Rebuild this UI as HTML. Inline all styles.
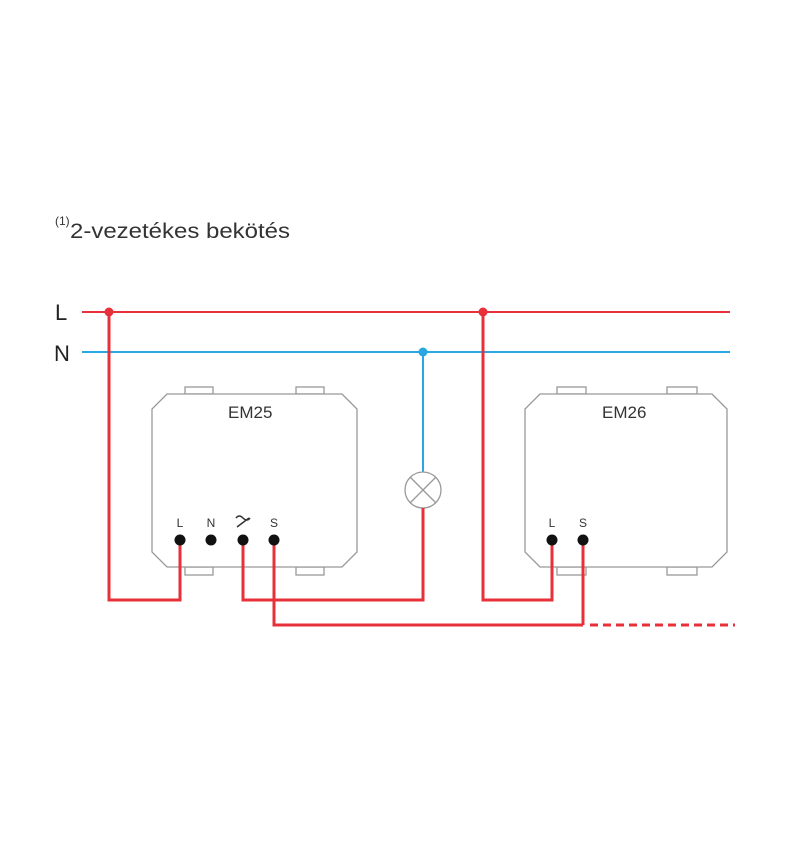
<!DOCTYPE html>
<html><head><meta charset="utf-8"><style>
html,body{margin:0;padding:0;background:#fff;}
svg{display:block;}
text{font-family:"Liberation Sans",sans-serif;}
</style></head><body>
<svg width="800" height="850" viewBox="0 0 800 850" xmlns="http://www.w3.org/2000/svg">
<text x="55" y="225" font-size="12" fill="#333">(1)</text>
<text x="70" y="238" font-size="21" fill="#333" textLength="220" lengthAdjust="spacingAndGlyphs">2-vezetékes bekötés</text>
<text x="55" y="320" font-size="22" fill="#222">L</text>
<text x="54" y="361" font-size="22" fill="#222">N</text>
<line x1="82" y1="312" x2="730" y2="312" stroke="#e8303a" stroke-width="2"/>
<line x1="82" y1="352" x2="730" y2="352" stroke="#2aa7e0" stroke-width="2"/>
<g fill="#fff" stroke="#999" stroke-width="1.3">
<rect x="185" y="387" width="28" height="7"/><rect x="296" y="387" width="28" height="7"/>
<rect x="185" y="567" width="28" height="8"/><rect x="296" y="567" width="28" height="8"/>
<polygon points="167,394 342,394 357,409 357,552 342,567 167,567 152,552 152,409"/>
<rect x="557" y="387" width="29" height="7"/><rect x="667" y="387" width="30" height="7"/>
<rect x="557" y="567" width="29" height="8"/><rect x="667" y="567" width="30" height="8"/>
<polygon points="540,394 712,394 727,409 727,552 712,567 540,567 525,552 525,409"/>
</g>
<text x="228" y="418" font-size="17" fill="#333">EM25</text>
<text x="602" y="418" font-size="17" fill="#333">EM26</text>
<g font-size="12" fill="#333" text-anchor="middle">
<text x="180" y="527">L</text><text x="211" y="527">N</text><text x="274" y="527">S</text>
<text x="552" y="527">L</text><text x="583" y="527">S</text>
</g>
<path d="M236,518 q3,-4 7,0 q4,4 7,0 M237,527 l12,-9" stroke="#333" stroke-width="1.5" fill="none"/>
<line x1="423" y1="352" x2="423" y2="472" stroke="#2aa7e0" stroke-width="2"/>
<circle cx="423" cy="490" r="18" fill="#fff" stroke="#999" stroke-width="1.3"/>
<path d="M410,477 L436,503 M436,477 L410,503" stroke="#999" stroke-width="1.3"/>
<g stroke="#e8303a" stroke-width="3" fill="none">
<polyline points="109,312 109,600 180,600 180,540"/>
<polyline points="243,540 243,600 423,600 423,508"/>
<polyline points="274,540 274,625 583,625"/>
<polyline points="583,540 583,625"/>
<polyline points="483,312 483,600 552,600 552,540"/>
<line x1="590" y1="625" x2="735" y2="625" stroke-dasharray="8,5"/>
</g>
<g fill="#e8303a"><circle cx="109" cy="312" r="4.5"/><circle cx="483" cy="312" r="4.5"/></g>
<circle cx="423" cy="352" r="4.5" fill="#2aa7e0"/>
<g fill="#111">
<circle cx="180" cy="540" r="5.5"/><circle cx="211" cy="540" r="5.5"/><circle cx="243" cy="540" r="5.5"/><circle cx="274" cy="540" r="5.5"/>
<circle cx="552" cy="540" r="5.5"/><circle cx="583" cy="540" r="5.5"/>
</g>
</svg>
</body></html>
